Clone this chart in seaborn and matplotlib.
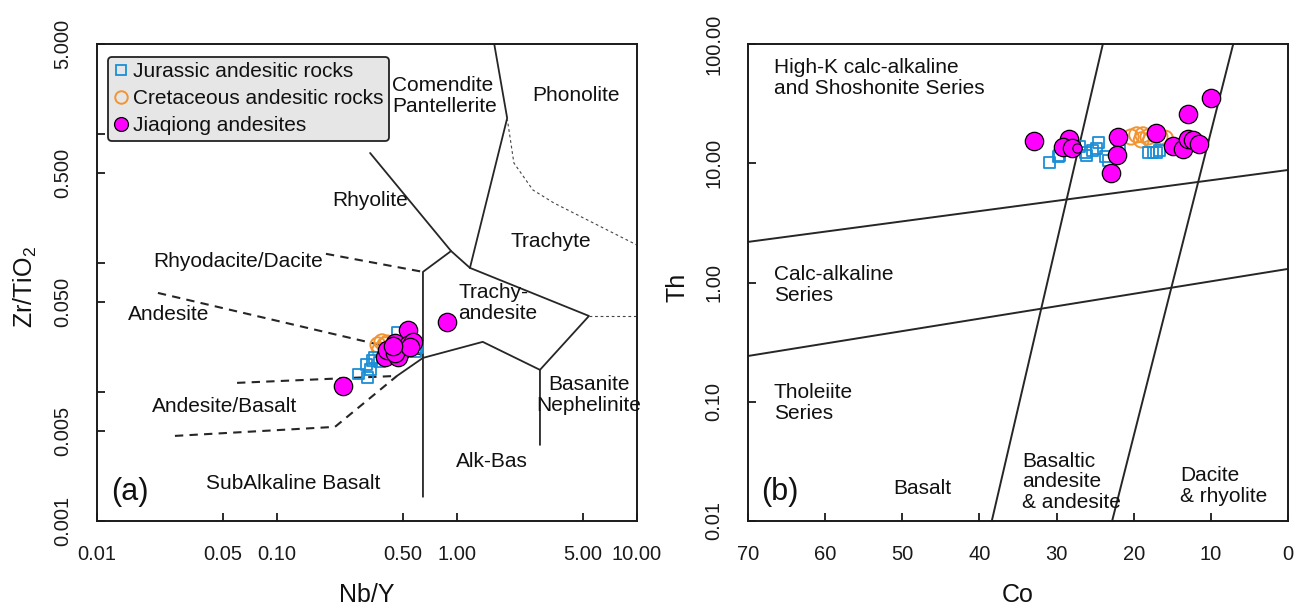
import numpy as np
import pandas as pd
import matplotlib
matplotlib.use("Agg")
import matplotlib.pyplot as plt
from matplotlib.lines import Line2D
import seaborn as sns

# ---------------- Panel (a): Zr/TiO2 vs Nb/Y ----------------
jur_a_nby = [0.282, 0.319, 0.315, 0.337, 0.350, 0.330, 0.370, 0.464, 0.585, 0.600]
jur_a_zr = [0.0138, 0.0129, 0.0163, 0.0177, 0.0184, 0.0149, 0.0171, 0.0292, 0.0205, 0.0220]
cre_a_nby = [0.364, 0.383, 0.398, 0.373, 0.410]
cre_a_zr = [0.0232, 0.0245, 0.0232, 0.0212, 0.0240]
jq_a_nby = [0.233, 0.88, 0.535, 0.453, 0.535, 0.570, 0.398, 0.482, 0.408, 0.471, 0.453, 0.548, 0.44]
jq_a_zr = [0.0112, 0.035, 0.0303, 0.0240, 0.0232, 0.0245, 0.0187, 0.0205, 0.0212, 0.0187, 0.0201, 0.0224, 0.0226]

# field boundaries (Nb/Y, Zr/TiO2)
a_solid = [
    ([0.329, 0.927, 1.18], [0.714, 0.124, 0.0918]),
    ([0.927, 0.647, 0.647], [0.124, 0.0855, 0.00154]),
    ([1.61, 1.90, 1.18], [5.0, 1.33, 0.0918]),
    ([1.18, 5.41, 2.89, 2.89], [0.0918, 0.0389, 0.01486, 0.00389]),
    ([2.89, 1.39, 0.647, 0.464], [0.01486, 0.0245, 0.0184, 0.01334]),
]
a_dashed = [
    ([0.187, 0.647], [0.118, 0.0855]),
    ([0.0218, 0.647], [0.0587, 0.0194]),
    ([0.060, 0.464], [0.01178, 0.01334]),
    ([0.0271, 0.210, 0.464], [0.00457, 0.00537, 0.01334]),
]
a_dotted = [
    ([1.90, 2.07, 2.64, 3.46, 10.0], [1.33, 0.598, 0.369, 0.292, 0.138]),
    ([5.41, 10.0], [0.0389, 0.0389]),
]
a_xticks = [0.01, 0.05, 0.1, 0.5, 1, 5, 10]
a_xticklabels = ["0.01", "0.05", "0.10", "0.50", "1.00", "5.00", "10.00"]
a_yticks = [0.001, 0.005, 0.01, 0.05, 0.1, 0.5, 1, 5]
a_yticklabels = ["0.001", "0.005", "", "0.050", "", "0.500", "", "5.000"]

# ---------------- Panel (b): Th vs Co ----------------
jur_b_co = [30.9, 29.8, 29.6, 27.0, 26.3, 26.1, 25.4, 24.6, 24.8, 23.6, 23.3, 18.1, 17.5, 17.0, 16.6, 21.8]
jur_b_th = [10.2, 11.3, 11.7, 13.7, 12.4, 11.7, 12.9, 14.8, 13.4, 11.3, 10.6, 12.4, 12.4, 12.2, 12.9, 12.9]
cre_b_co = [20.35, 19.6, 18.8, 18.15, 17.2, 16.6, 15.9, 19.0, 17.8]
cre_b_th = [16.6, 17.3, 17.3, 16.6, 17.3, 16.6, 16.2, 15.7, 15.7]
jq_b_co = [32.9, 28.4, 29.2, 28.0, 22.0, 22.2, 22.9, 17.1, 14.9, 13.6, 13.0, 12.3, 11.5, 13.0, 10.0]
jq_b_th = [15.4, 16.0, 13.7, 13.4, 16.6, 11.7, 8.3, 17.9, 14.0, 13.2, 16.0, 15.7, 14.5, 25.9, 35.3]
jq_b_small_co = [27.35]
jq_b_small_th = [13.4]

b_lines = [
    ([70, 0], [2.19, 8.78]),
    ([70, 0], [0.242, 1.30]),
    ([24.0, 38.4], [100, 0.01]),
    ([7.1, 22.8], [100, 0.01]),
]
b_xticks = [70, 60, 50, 40, 30, 20, 10, 0]
b_yticks = [0.01, 0.1, 1, 10, 100]
b_yticklabels = ["0.01", "0.10", "1.00", "10.00", "100.00"]

labels = ["Jurassic andesitic rocks", "Cretaceous andesitic rocks", "Jiaqiong andesites"]

# ---------------- style ----------------
sns.set_theme(style="white")
plt.rcParams["font.family"] = ["Liberation Sans", "DejaVu Sans"]
plt.rcParams["mathtext.default"] = "regular"
plt.rcParams["axes.edgecolor"] = "#1a1a1a"
plt.rcParams["axes.linewidth"] = 1.4

BLUE = "#1b8fd6"
ORANGE = "#f39433"
MAGENTA = "#ff00ff"
LINE = "#262626"
TXT = "#111111"

fig = plt.figure(figsize=(13.08, 6.06), dpi=100)
axA = fig.add_axes([97 / 1308, 85 / 606, 540 / 1308, 477 / 606])
axB = fig.add_axes([748 / 1308, 85 / 606, 540 / 1308, 477 / 606])


def draw_groups(ax, jx, jy, cx, cy, qx, qy):
    sns.scatterplot(data=pd.DataFrame({"x": cx, "y": cy}), x="x", y="y", ax=ax,
                    marker="o", s=120, facecolor="none", edgecolor=ORANGE,
                    linewidth=1.4, legend=False, zorder=3)
    sns.scatterplot(data=pd.DataFrame({"x": jx, "y": jy}), x="x", y="y", ax=ax,
                    marker="s", s=62, facecolor="none", edgecolor=BLUE,
                    linewidth=1.3, legend=False, zorder=4)
    sns.scatterplot(data=pd.DataFrame({"x": qx, "y": qy}), x="x", y="y", ax=ax,
                    marker="o", s=175, color=MAGENTA, edgecolor="black",
                    linewidth=0.9, legend=False, zorder=5)


# ---- panel a ----
axA.set_xscale("log")
axA.set_yscale("log")
for xs, ys in a_solid:
    axA.plot(xs, ys, color=LINE, lw=1.3, zorder=2)
for xs, ys in a_dashed:
    axA.plot(xs, ys, color=LINE, lw=1.5, ls=(0, (4, 3)), zorder=2)
for xs, ys in a_dotted:
    axA.plot(xs, ys, color="#444444", lw=0.8, ls=(0, (2.5, 2.5)), zorder=2)
draw_groups(axA, jur_a_nby, jur_a_zr, cre_a_nby, cre_a_zr, jq_a_nby, jq_a_zr)
axA.set_xlim(0.01, 10)
axA.set_ylim(0.001, 5)
axA.set_xticks(a_xticks)
axA.set_xticklabels(a_xticklabels)
axA.set_yticks(a_yticks)
axA.set_yticklabels(a_yticklabels, rotation=90, va="center")
axA.minorticks_off()
axA.set_xlabel("Nb/Y", fontsize=18)
axA.set_ylabel("Zr/TiO$_2$", fontsize=18)
axA.xaxis.set_label_coords(0.5, -0.155)
axA.yaxis.set_label_coords(-0.133, 0.49)

ta = dict(transform=axA.transAxes, fontsize=15, color=TXT, linespacing=1.1)
axA.text(0.546, 0.891, "Comendite\nPantellerite", ha="left", va="center", **ta)
axA.text(0.887, 0.891, "Phonolite", ha="center", va="center", **ta)
axA.text(0.506, 0.671, "Rhyolite", ha="center", va="center", **ta)
axA.text(0.841, 0.587, "Trachyte", ha="center", va="center", **ta)
axA.text(0.261, 0.543, "Rhyodacite/Dacite", ha="center", va="center", **ta)
axA.text(0.133, 0.432, "Andesite", ha="center", va="center", **ta)
axA.text(0.669, 0.457, "Trachy-\nandesite", ha="left", va="center", **ta)
axA.text(0.911, 0.264, "Basanite\nNephelinite", ha="center", va="center", multialignment="center", **ta)
axA.text(0.237, 0.239, "Andesite/Basalt", ha="center", va="center", **ta)
axA.text(0.731, 0.124, "Alk-Bas", ha="center", va="center", **ta)
axA.text(0.363, 0.078, "SubAlkaline Basalt", ha="center", va="center", **ta)
axA.text(0.061, 0.061, "(a)", transform=axA.transAxes, fontsize=22, color=TXT, ha="center", va="center")

handles = [
    Line2D([], [], ls="none", marker="s", ms=7, mfc="none", mec=BLUE, mew=1.3),
    Line2D([], [], ls="none", marker="o", ms=9, mfc="none", mec=ORANGE, mew=1.4),
    Line2D([], [], ls="none", marker="o", ms=10, mfc=MAGENTA, mec="black", mew=0.9),
]
leg = axA.legend(handles, labels, loc="upper left", bbox_to_anchor=(0.0204, 0.9727),
                 borderaxespad=0, fontsize=15, frameon=True, fancybox=True,
                 framealpha=1, facecolor="#e6e6e6", edgecolor="#222222",
                 handlelength=0.75, handletextpad=0.2, labelspacing=0.39,
                 borderpad=0.25)
leg.get_frame().set_linewidth(1.3)
for t in leg.get_texts():
    t.set_color(TXT)
leg.set_zorder(10)

# ---- panel b ----
axB.set_yscale("log")
for xs, ys in b_lines:
    axB.plot(xs, ys, color=LINE, lw=1.4, zorder=2)
draw_groups(axB, jur_b_co, jur_b_th, cre_b_co, cre_b_th, jq_b_co, jq_b_th)
sns.scatterplot(data=pd.DataFrame({"x": jq_b_small_co, "y": jq_b_small_th}), x="x", y="y",
                ax=axB, marker="o", s=45, color=MAGENTA, edgecolor="black",
                linewidth=0.8, legend=False, zorder=6)
axB.set_xlim(70, 0)
axB.set_ylim(0.01, 100)
axB.set_xticks(b_xticks)
axB.set_xticklabels([str(v) for v in b_xticks])
axB.set_yticks(b_yticks)
axB.set_yticklabels(b_yticklabels, rotation=90, va="center")
axB.minorticks_off()
axB.set_xlabel("Co", fontsize=18)
axB.set_ylabel("Th", fontsize=18)
axB.xaxis.set_label_coords(0.5, -0.155)
axB.yaxis.set_label_coords(-0.131, 0.49)

tb = dict(transform=axB.transAxes, fontsize=15, color=TXT, linespacing=1.1)
axB.text(0.048, 0.929, "High-K calc-alkaline\nand Shoshonite Series", ha="left", va="center", **tb)
axB.text(0.048, 0.495, "Calc-alkaline\nSeries", ha="left", va="center", **tb)
axB.text(0.048, 0.247, "Tholeiite\nSeries", ha="left", va="center", **tb)
axB.text(0.322, 0.069, "Basalt", ha="center", va="center", **tb)
axB.text(0.507, 0.082, "Basaltic\nandesite\n& andesite", ha="left", va="center", **tb)
axB.text(0.800, 0.073, "Dacite\n& rhyolite", ha="left", va="center", **tb)
axB.text(0.059, 0.061, "(b)", transform=axB.transAxes, fontsize=22, color=TXT, ha="center", va="center")

for ax in (axA, axB):
    ax.tick_params(axis="both", which="major", direction="in", length=6, width=1.3,
                   labelsize=14.5, colors="#1a1a1a", top=False, right=False,
                   bottom=True, left=True)
    ax.tick_params(axis="x", pad=17)
    ax.tick_params(axis="y", pad=18)
    ax.xaxis.label.set_va("center")
    ax.yaxis.label.set_va("center")
    ax.xaxis.label.set_color(TXT)
    ax.yaxis.label.set_color(TXT)
    ax.grid(False)
    for sp in ax.spines.values():
        sp.set_visible(True)
        sp.set_linewidth(1.4)
        sp.set_color("#1a1a1a")

fig.savefig("out.png", dpi=100)
